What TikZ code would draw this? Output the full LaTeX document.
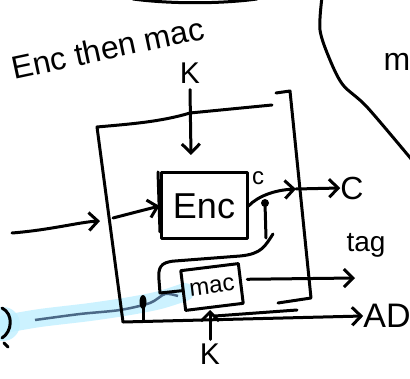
\documentclass[tikz,border=0pt]{standalone}
\usepackage{fontspec}
\setmainfont{Liberation Sans}
\usetikzlibrary{arrows.meta}
\begin{document}
\begin{tikzpicture}[x=1pt,y=-1pt,
  ink/.style={line width=3pt,line cap=round,line join=round},
  barb/.style={-{Straight Barb[length=9pt,width=18pt,line width=3pt]}},
  boxn/.style={draw,ink,minimum width=#1,inner sep=0pt},
  lbl/.style={inner sep=0pt}]
\useasboundingbox (0,0) rectangle (410,379);
% top and right strokes
\draw[ink] (133,-1) .. controls (170,4) and (220,4) .. (257,-1);
\draw[ink] plot[smooth] coordinates {(322,-3) (320,30) (330,60) (343,85) (367,107) (412,160)};
\node[lbl,font=\fontsize{32}{32}\selectfont] (M) at (397,62) {m};
% title
\node[lbl,rotate=12,font=\fontsize{32}{32}\selectfont] (title) at (108,48) {Enc then mac};
% blue highlight
\fill[blue!25!cyan!25,opacity=0.8] (3,324) circle (17);
\draw[line width=18pt,line cap=round,blue!25!cyan!25,opacity=0.8] plot[smooth] coordinates {(5,324) (40,318) (90,312) (130,306) (160,300) (185,292)};
\draw[line width=2.5pt,color={rgb,255:red,75;green,105;blue,135}] plot[smooth] coordinates {(35,320) (80,314) (120,310) (150,303) (165,294) (178,296)};
\draw[ink] (2,308) .. controls (14,314) and (12,332) .. (2,338);
\draw[ink] (4,343) -- (8,347);
% outer frame
\coordinate (tl) at (97,127);
\coordinate (bl) at (123,322);
\draw[ink] (bl) -- (tl) .. controls (130,124) and (160,122) .. (190,113) -- (272,105);
\draw[ink] (276,93) -- (290,91) -- (311,298) -- (278,303);
% Enc and mac boxes
\node[boxn=86pt,minimum height=66pt,font=\fontsize{36}{36}\selectfont] (enc) at (204,206) {Enc};
\draw[ink] (158,172) -- (160,232);
\node[boxn=58pt,minimum height=40pt,rotate=7,font=\fontsize{24}{24}\selectfont] (mac) at (212,287) {mac};
% K top
\node[lbl,font=\fontsize{30}{30}\selectfont] (Ktop) at (190,73) {K};
\coordinate (kend) at (191,155);
\draw[ink,barb] (Ktop.south) ++(0,6) -- (kend);
% input
\coordinate (in) at (12,233);
\coordinate (inb) at (100,221);
\draw[ink,barb] (in) .. controls (50,230) and (80,222) .. (inb);
\draw[ink,barb] (113,218) -- (enc.west);
% output c
\node[lbl,font=\fontsize{24}{24}\selectfont] (c) at (258,178) {c};
\coordinate (cx) at (296,189);
\draw[ink,barb] (enc.east) .. controls (258,196) and (275,190) .. (cx);
\node[lbl,font=\fontsize{32}{32}\selectfont] (C) at (352,188) {C};
\draw[ink,barb] (cx) -- (C.west);
% tap to mac
\coordinate (dot) at (265,203);
\fill (dot) circle (4);
\draw[ink] (dot) -- (266,238);
\draw[ink] (273,234) .. controls (265,246) and (262,254) .. (240,256) -- (175,261) .. controls (160,262) and (158,268) .. (159,280) -- (160,293) -- (mac.west);
% tag
\node[lbl,font=\fontsize{28}{28}\selectfont] (tag) at (366,245) {tag};
\draw[ink,barb] (mac.east) ++(5,-4) -- (355,278);
% AD
\node[lbl,font=\fontsize{34}{34}\selectfont] (AD) at (387,316) {AD};
\draw[ink,barb] (bl) -- (AD.west);
\draw[ink] (215,316) -- (297,310);
% lollipop
\fill (143,302) ellipse (3.5pt and 7pt);
\draw[ink] (143,302) -- (143,321);
% K bottom
\node[lbl,font=\fontsize{30}{30}\selectfont] (Kbot) at (210,354) {K};
\coordinate (macb) at (210,310);
\draw[ink,barb] (Kbot.north) ++(0,-4) -- (macb);
\end{tikzpicture}
\end{document}
